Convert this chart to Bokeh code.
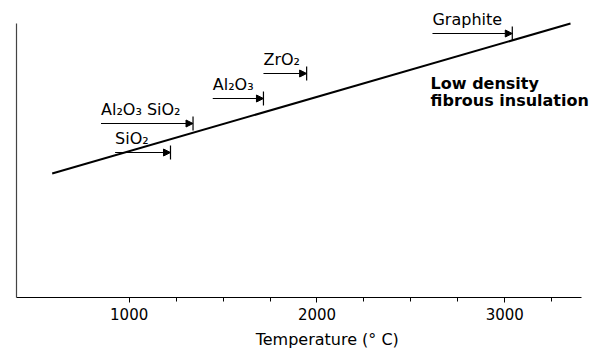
import math
from bokeh.plotting import figure
from bokeh.models import Arrow, NormalHead, ColumnDataSource, FixedTicker, Range1d
from bokeh.core.properties import value
from bokeh.embed import file_html
from bokeh.resources import INLINE

# ---- data ----
trend_temp = [590, 3350]          # deg C
trend_level = [124, 274]          # arbitrary units

materials = ["Al\u2082O\u2083 SiO\u2082", "SiO\u2082", "Al\u2082O\u2083", "ZrO\u2082", "Graphite"]
temp_start = [850, 925, 1445, 1715, 2615]
temp_max = [1340, 1220, 1715, 1945, 3040]
level = [174, 145, 199, 224, 264]

note_text = ["Low density", "fibrous insulation"]
note_temp = [2605, 2605]
note_level = [214, 197]

major_ticks = [1000, 2000, 3000]
minor_ticks = [1250, 1500, 1750, 2250, 2500, 2750, 3250]
x_title = "Temperature (\u00b0 C)"

FONT = value("DejaVu Sans")

p = figure(width=607, height=353, x_range=Range1d(400, 3547), y_range=Range1d(0, 297),
           output_backend="svg", toolbar_location=None,
           min_border_left=16, min_border_right=0, min_border_top=0, min_border_bottom=56)
p.xgrid.visible = False
p.ygrid.visible = False
p.outline_line_color = None
p.background_fill_color = "white"

# x axis
xa = p.xaxis[0]
xa.ticker = FixedTicker(ticks=major_ticks, minor_ticks=minor_ticks)
xa.bounds = (400, 3410)
xa.axis_line_color = "black"
xa.axis_line_width = 1.2
xa.major_tick_in = 0
xa.major_tick_out = 5
xa.minor_tick_in = 0
xa.minor_tick_out = 4
xa.major_tick_line_color = "black"
xa.minor_tick_line_color = "black"
xa.major_label_text_font = "DejaVu Sans"
xa.major_label_text_font_size = "15px"
xa.major_label_text_color = "black"
xa.major_label_standoff = 5
# leading no-break spaces shift the centred title right, as in the reference
xa.axis_label = "\u00a0" * 6 + x_title
xa.axis_label_text_font = "DejaVu Sans"
xa.axis_label_text_font_size = "16px"
xa.axis_label_text_font_style = "normal"
xa.axis_label_text_color = "black"
xa.axis_label_standoff = 7

# y axis (no scale shown)
ya = p.yaxis[0]
ya.ticker = FixedTicker(ticks=[])
ya.bounds = (0, 274)
ya.axis_line_color = "#444444"
ya.axis_line_width = 1.2
ya.major_tick_line_color = None
ya.minor_tick_line_color = None
ya.major_tick_out = 0
ya.minor_tick_out = 0

# trend line
p.line(trend_temp, trend_level, line_width=2, line_color="black")

# material limits
src = ColumnDataSource(dict(x0=temp_start, x1=temp_max, y=level, name=materials))
p.add_layout(Arrow(end=NormalHead(size=7, fill_color="black", line_color="black", line_width=1),
                   x_start="x0", y_start="y", x_end="x1", y_end="y", source=src,
                   line_width=1.2, line_color="black"))
p.scatter(x="x1", y="y", source=src, marker="dash", size=14, angle=math.pi / 2,
          line_color="black", line_width=1.2)
p.text(x="x0", y="y", text="name", source=src, text_font=FONT, text_font_size="16px",
       text_baseline="alphabetic", text_align="left", y_offset=-14, text_color="black")

# note
p.text(x=note_temp, y=note_level, text=note_text, text_font=FONT, text_font_size="16px",
       text_font_style="bold", text_baseline="alphabetic", text_color="black")

open("out.html", "w").write(file_html(p, INLINE))
